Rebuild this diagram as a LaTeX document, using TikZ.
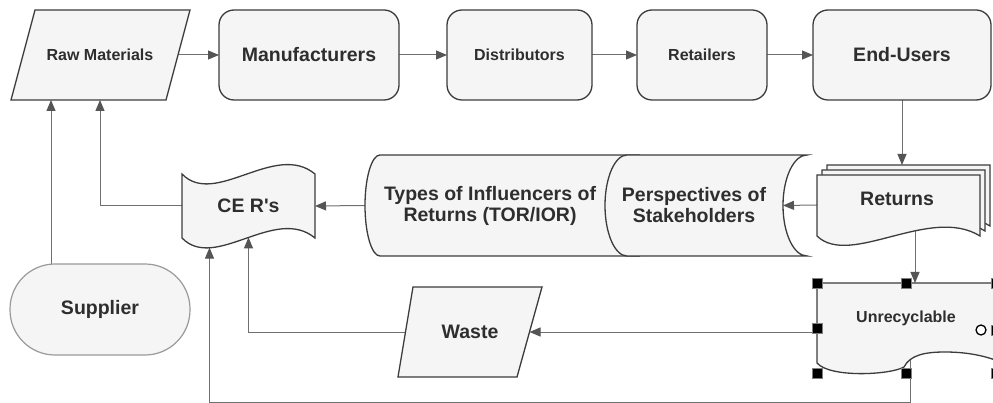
\documentclass[tikz,border=0pt]{standalone}
\usepackage{fontspec}
\setmainfont{Liberation Sans}
\usetikzlibrary{arrows.meta,calc}
\definecolor{shapeline}{HTML}{3C3C3C}
\definecolor{shapefill}{HTML}{F5F5F5}
\definecolor{linec}{HTML}{707070}
\definecolor{tipc}{HTML}{555555}
\definecolor{txt}{HTML}{2E2E2E}
\definecolor{softline}{HTML}{9A9A9A}
\pgfdeclarelayer{bg}
\pgfsetlayers{bg,main}
\begin{document}
\begin{tikzpicture}[x=1pt,y=-1pt,
  shp/.style={draw=shapeline, fill=shapefill, line width=1.3pt},
  big/.style={font=\bfseries\fontsize{19.5}{21}\selectfont, text=txt, align=center, inner sep=0pt, outer sep=0pt},
  small/.style={font=\bfseries\fontsize{16}{18}\selectfont, text=txt, align=center, inner sep=0pt, outer sep=0pt},
  rbox/.style={shp, rounded corners=15pt, minimum height=90pt, outer sep=0pt},
  area/.style={inner sep=0pt, outer sep=0pt},
  conn/.style={draw=linec, line width=1pt, -{Triangle[length=11pt,width=9pt,color=tipc]}},
  handle/.style={fill=black, draw=gray, line width=0.5pt, minimum size=10pt, inner sep=0pt, outer sep=0pt}
]
\useasboundingbox (0,0) rectangle (993,403);
\begin{pgfonlayer}{bg}
\fill[white] (0,0) rectangle (993,403);
\end{pgfonlayer}

% top row
\draw[shp] (35,10) -- (190,10) -- (166,100) -- (11,100) -- cycle;
\node[small, minimum width=156pt, minimum height=90pt] (raw) at (100,55) {Raw Materials};
\node[rbox, big, minimum width=180pt] (manu) at (309,55) {Manufacturers};
\node[rbox, small, minimum width=145pt] (dist) at (519.5,55) {Distributors};
\node[rbox, small, minimum width=130pt] (retl) at (702,55) {Retailers};
\node[rbox, big, minimum width=178pt] (endu) at (902,55) {End-Users};

% supplier
\node[draw=softline, fill=shapefill, line width=1.2pt, rounded corners=45pt, minimum width=180pt, minimum height=91pt, big] (supp) at (100,309.5) {Supplier};

% CE R's tape
\draw[shp] (182,174) .. controls (215,208) and (275,141) .. (315,174) -- (315,238) .. controls (275,205) and (215,272) .. (182,238) -- cycle;
\node[big, minimum width=133pt, minimum height=64pt] (cer) at (248.5,206) {CE R\textquotesingle s};
\coordinate (cerB1) at (209.5,247.6);
\coordinate (cerB2) at (248.5,237.4);

% Types cylinder
\fill[shapefill] (380,155) -- (640,155) -- (640,256) -- (380,256) .. controls (371.7,256) and (365,233.4) .. (365,205.5) .. controls (365,177.6) and (371.7,155) .. (380,155) -- cycle;
\draw[draw=shapeline, line width=1.3pt] (640,155) -- (380,155) .. controls (371.7,155) and (365,177.6) .. (365,205.5) .. controls (365,233.4) and (371.7,256) .. (380,256) -- (640,256);
\node[big, minimum width=250pt, minimum height=101pt] (types) at (490,205.5) {Types of Influencers of\\Returns (TOR/IOR)};

% Perspectives cylinder
\draw[shp] (627,155) -- (807,155) .. controls (793.8,155) and (783,177.6) .. (783,205.5) .. controls (783,233.4) and (793.8,256) .. (807,256) -- (627,256) .. controls (614.9,256) and (605,233.4) .. (605,205.5) .. controls (605,177.6) and (614.9,155) .. (627,155) -- cycle;
\node[big, minimum width=178pt, minimum height=101pt] (persp) at (694,205.5) {Perspectives of\\Stakeholders};

% Returns multi-document
\foreach \d in {10,5}{
  \draw[shp, xshift=\d pt, yshift=\d pt] (817,175) -- (980,175) -- (980,236) .. controls (930,205) and (850,268) .. (817,236) -- cycle;
}
\draw[shp] (817,175) -- (980,175) -- (980,236) .. controls (930,205) and (850,268) .. (817,236) -- cycle;
\coordinate (retTop) at (903,165);
\node[area, minimum width=163pt, minimum height=60pt] (retn) at (898.5,205) {};
\node[big] (retnT) at (897,199) {Returns};

% Waste
\draw[shp] (413,287) -- (542,287) -- (517,377) -- (398,377) -- cycle;
\node[big, minimum width=119pt, minimum height=90pt] (waste) at (470,332) {Waste};

% Unrecyclable
\draw[shp] (817,283) -- (1005,283) -- (1005,364) .. controls (990,357) and (970,352) .. (945,352) .. controls (925,352) and (910,355) .. (904,367) .. controls (890,375) and (830,378) .. (817,363) -- cycle;
\node[area, minimum width=183pt, minimum height=90pt] (unrec) at (908.5,328) {};
\node[small] (unrecT) at (906,318) {Unrecyclable};
\foreach \p [count=\i] in {(817,283),(906,283),(996,283),(817,328),(996,330),(817,373),(906,373),(996,373)}
  \node[handle] (h\i) at \p {};
\node[circle, draw=black, fill=white, line width=1.3pt, minimum size=10pt, inner sep=0pt] (rot) at (981,330) {};

% connectors
\begin{pgfonlayer}{bg}
\draw[conn] (raw.east) -- (manu.west);
\draw[conn] (manu.east) -- (dist.west);
\draw[conn] (dist.east) -- (retl.west);
\draw[conn] (retl.east) -- (endu.west);
\draw[conn] (endu.south) -- (endu.south |- retTop);
\draw[conn] (retn.west) -- (persp.east);
\draw[conn] (types.west) -- (cer.east);
\draw[conn] (cer.west) -| (raw.south);
\draw[conn] ([xshift=-49pt]supp.north) -- ([xshift=-49pt]raw.south);
\draw[conn] ([xshift=16.5pt]retn.center) -- ([xshift=6.5pt]unrec.north);
\draw[conn] ([yshift=-4pt]unrec.west) -- (waste.east);
\draw[conn] (waste.west) -| (cerB2);
\draw[conn] ([xshift=1.5pt]unrec.center) -- ([xshift=1.5pt,yshift=-29pt]unrec.south) -| (cerB1);
\end{pgfonlayer}
\end{tikzpicture}
\end{document}
